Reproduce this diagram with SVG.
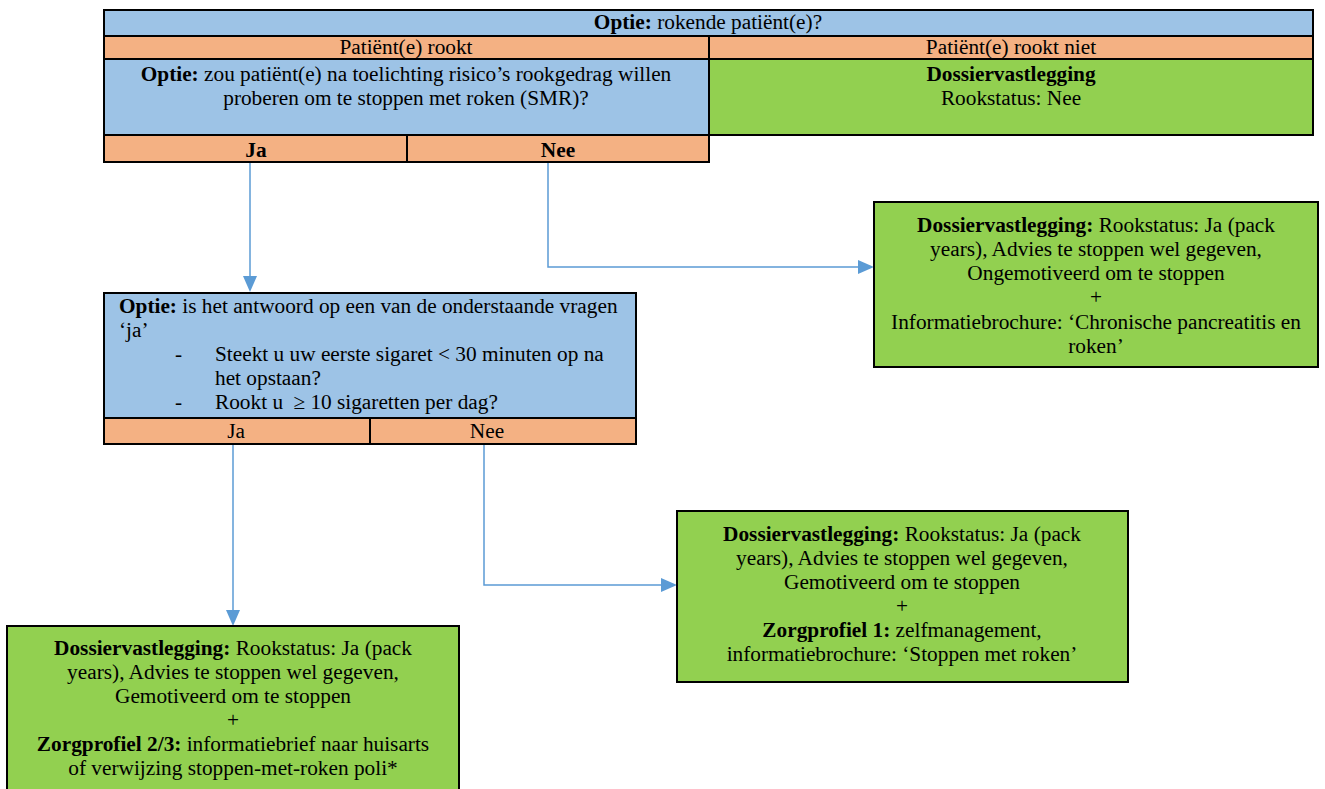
<svg xmlns="http://www.w3.org/2000/svg" width="1325" height="789" viewBox="0 0 1325 789">
<style>
text{font-family:"Liberation Serif","Times New Roman","DejaVu Serif",serif;font-size:21.3px;fill:#000}
.c{text-anchor:middle}
.b{font-weight:bold}
.blue{fill:#9dc3e6;stroke:#000;stroke-width:2}
.org{fill:#f4b183;stroke:#000;stroke-width:2}
.grn{fill:#92d050;stroke:#000;stroke-width:2}
.conn{fill:none;stroke:#5b9bd5;stroke-width:1.5}
.head{fill:#5b9bd5}
</style>
<g id="connectors">
<path class="conn" d="M250,163 V278"/>
<path class="head" d="M243,276 L257,276 L250,292 z"/>
<path class="conn" d="M548,163 V267 H860"/>
<path class="head" d="M858,260 L874,267 L858,274 z"/>
<path class="conn" d="M233,445 V612"/>
<path class="head" d="M226,610 L240,610 L233,626 z"/>
<path class="conn" d="M484,445 V585 H663"/>
<path class="head" d="M661,578 L677,585 L661,592 z"/>
</g>
<g id="table1">
<rect class="blue" x="104" y="10" width="1209" height="26"/>
<rect class="org" x="104" y="36" width="605" height="23"/>
<rect class="org" x="709" y="36" width="604" height="23"/>
<rect class="blue" x="104" y="59" width="605" height="76"/>
<rect class="grn" x="709" y="59" width="604" height="76"/>
<rect class="org" x="104" y="135" width="303" height="27"/>
<rect class="org" x="407" y="135" width="302" height="27"/>
<text class="c" x="708" y="29"><tspan class="b">Optie:</tspan> rokende patiënt(e)?</text>
<text class="c" x="406" y="54">Patiënt(e) rookt</text>
<text class="c" x="1011" y="54">Patiënt(e) rookt niet</text>
<text class="c" x="406" y="81"><tspan class="b">Optie:</tspan> zou patiënt(e) na toelichting risico’s rookgedrag willen</text>
<text class="c" x="406" y="105">proberen om te stoppen met roken (SMR)?</text>
<text class="c b" x="1011" y="81">Dossiervastlegging</text>
<text class="c" x="1011" y="105">Rookstatus: Nee</text>
<text class="c b" x="256" y="157">Ja</text>
<text class="c b" x="558" y="157">Nee</text>
</g>
<g id="box2">
<rect class="blue" x="104" y="293" width="532" height="125"/>
<rect class="org" x="104" y="418" width="266" height="26"/>
<rect class="org" x="370" y="418" width="266" height="26"/>
<text x="119" y="313"><tspan class="b">Optie:</tspan> is het antwoord op een van de onderstaande vragen</text>
<text x="119" y="337">‘ja’</text>
<text x="175" y="361">-</text>
<text x="215" y="361">Steekt u uw eerste sigaret &lt; 30 minuten op na</text>
<text x="215" y="385">het opstaan?</text>
<text x="175" y="409">-</text>
<text x="215" y="409">Rookt u <tspan dx="5">≥ 10 sigaretten per dag?</tspan></text>
<text class="c" x="236" y="438">Ja</text>
<text class="c" x="487" y="438">Nee</text>
</g>
<g id="box3">
<rect class="grn" x="874" y="202" width="444" height="165"/>
<text class="c" x="1096" y="232"><tspan class="b">Dossiervastlegging:</tspan> Rookstatus: Ja (pack</text>
<text class="c" x="1096" y="256">years), Advies te stoppen wel gegeven,</text>
<text class="c" x="1096" y="280">Ongemotiveerd om te stoppen</text>
<text class="c" x="1096" y="304">+</text>
<text class="c" x="1096" y="329">Informatiebrochure: ‘Chronische pancreatitis en</text>
<text class="c" x="1096" y="353">roken’</text>
</g>
<g id="box4">
<rect class="grn" x="677" y="511" width="451" height="171"/>
<text class="c" x="902" y="541"><tspan class="b">Dossiervastlegging:</tspan> Rookstatus: Ja (pack</text>
<text class="c" x="902" y="565">years), Advies te stoppen wel gegeven,</text>
<text class="c" x="902" y="589">Gemotiveerd om te stoppen</text>
<text class="c" x="902" y="613">+</text>
<text class="c" x="902" y="637"><tspan class="b">Zorgprofiel 1:</tspan> zelfmanagement,</text>
<text class="c" x="902" y="661">informatiebrochure: ‘Stoppen met roken’</text>
</g>
<g id="box5">
<rect class="grn" x="7" y="626" width="452" height="175"/>
<text class="c" x="233" y="655"><tspan class="b">Dossiervastlegging:</tspan> Rookstatus: Ja (pack</text>
<text class="c" x="233" y="679">years), Advies te stoppen wel gegeven,</text>
<text class="c" x="233" y="703">Gemotiveerd om te stoppen</text>
<text class="c" x="233" y="727">+</text>
<text class="c" x="233" y="751"><tspan class="b">Zorgprofiel 2/3:</tspan> informatiebrief naar huisarts</text>
<text class="c" x="233" y="775">of verwijzing stoppen-met-roken poli*</text>
</g>
</svg>
